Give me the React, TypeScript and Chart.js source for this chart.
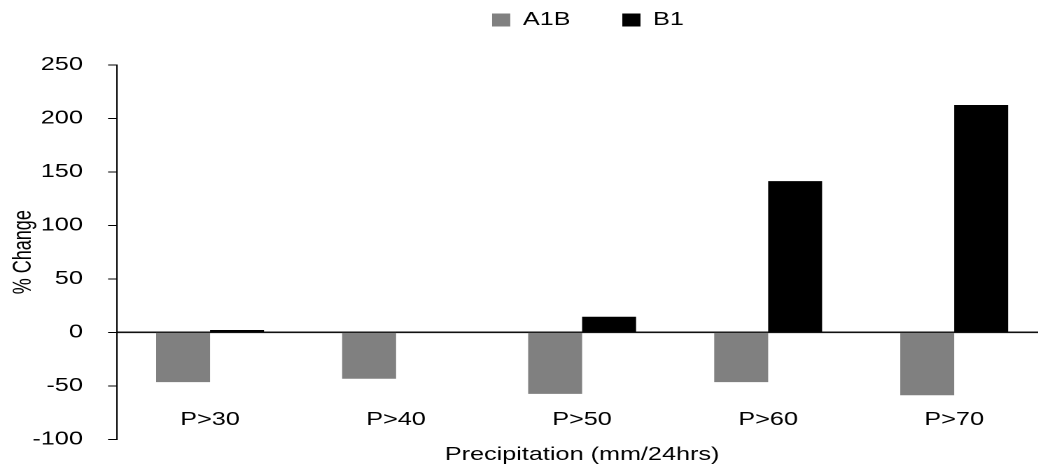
import React, { useEffect, useRef } from "react";
import { Chart, registerables } from "chart.js";

Chart.register(...registerables);

const categories: string[] = ["P>30", "P>40", "P>50", "P>60", "P>70"];
const seriesA1B: number[] = [-46.5, -43.3, -57.4, -46.5, -58.7];
const seriesB1: number[] = [2.3, 0.7, 14.7, 141.5, 212.6];
const yTickMin = -100;
const yTickMax = 250;
const yTickStep = 50;

const FONT = "'Liberation Sans', Arial, sans-serif";
const SX = 1.4; // horizontal stretch of the original picture
const INNER_W = 748;
const H = 471;

const legendShift = {
  id: "legendShift",
  afterLayout(chart: any) {
    const l = chart.legend;
    if (!l) return;
    const dx = 420 - (l.left + l.right) / 2;
    l.left += dx;
    l.right += dx;
    l.top -= 26;
    l.bottom -= 26;
  },
};

export default function App() {
  const ref = useRef<HTMLCanvasElement | null>(null);
  useEffect(() => {
    if (!ref.current) return;
    const chart = new Chart(ref.current, {
      type: "bar",
      data: {
        labels: categories,
        datasets: [
          {
            label: "A1B",
            data: seriesA1B,
            backgroundColor: "#808080",
            borderWidth: 0,
            categoryPercentage: 0.58,
            barPercentage: 1.0,
          },
          {
            label: "B1",
            data: seriesB1,
            backgroundColor: "#000000",
            borderWidth: 0,
            categoryPercentage: 0.58,
            barPercentage: 1.0,
          },
        ],
      },
      options: {
        animation: false,
        responsive: true,
        maintainAspectRatio: false,
        devicePixelRatio: 2,
        layout: { padding: 0 },
        plugins: {
          tooltip: { enabled: false },
          legend: {
            position: "top",
            align: "center",
            labels: {
              boxWidth: 13,
              boxHeight: 13,
              padding: 37,
              color: "#000",
              font: { family: FONT, size: 18 },
            },
          },
        },
        scales: {
          x: {
            type: "category",
            position: { y: 0 } as any,
            afterFit: (scale: any) => {
              scale.paddingLeft = 0;
              scale.paddingRight = 0;
            },
            grid: { display: false, drawTicks: false },
            border: { display: true, color: "#111", width: 1.6 },
            ticks: {
              color: "#000",
              padding: 77,
              autoSkip: false,
              maxRotation: 0,
              font: { family: FONT, size: 18 },
            },
          },
          x2: {
            type: "category",
            position: "bottom",
            grid: { display: false, drawTicks: false },
            border: { display: false },
            ticks: { display: false },
            title: {
              display: true,
              text: "Precipitation (mm/24hrs)",
              color: "#000",
              padding: { top: 5, bottom: 5 },
              font: { family: FONT, size: 18 },
            },
          },
          y: {
            type: "linear",
            position: "left",
            min: yTickMin,
            max: yTickMax,
            afterFit: (scale: any) => {
              scale.width = 83.6;
            },
            grid: {
              display: true,
              drawOnChartArea: false,
              drawTicks: true,
              tickLength: 6.4,
              color: "#000",
            },
            border: { display: true, color: "#000", width: 1 },
            ticks: {
              stepSize: yTickStep,
              color: "#000",
              padding: 18,
              font: { family: FONT, size: 18 },
            },
            title: {
              display: true,
              text: "% Change",
              color: "#000",
              padding: { top: 6, bottom: 0 },
              font: { family: FONT, size: 18 },
            },
          },
        },
      },
      plugins: [legendShift],
    });
    return () => chart.destroy();
  }, []);

  return (
    <div
      style={{
        position: "fixed",
        left: 0,
        top: 0,
        width: 1038,
        height: H,
        overflow: "hidden",
        background: "#fff",
      }}
    >
      <div
        style={{
          position: "relative",
          width: INNER_W,
          height: H,
          transform: `scaleX(${SX})`,
          transformOrigin: "0 0",
        }}
      >
        <canvas ref={ref} />
      </div>
    </div>
  );
}
